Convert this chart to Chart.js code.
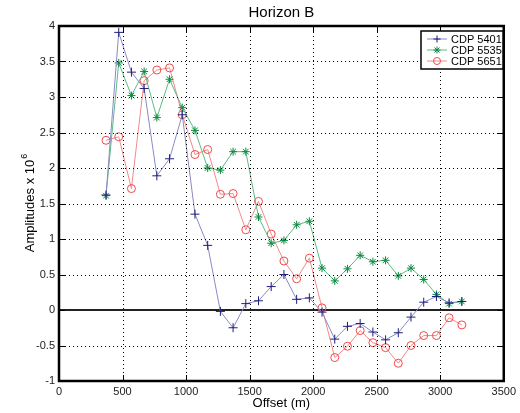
<!DOCTYPE html>
<html>
<head>
<meta charset="utf-8">
<script src="https://cdn.jsdelivr.net/npm/chart.js@4.4.1/dist/chart.umd.min.js"></script>
<style>
html,body{margin:0;padding:0;background:#fff;}
#wrap{width:520px;height:413px;position:relative;}
</style>
</head>
<body>
<div id="wrap"><canvas id="c" width="520" height="413"></canvas></div>
<script>
const offsets = [370,470,570,670,770,870,970,1070,1170,1270,1370,1470,1570,1670,1770,1870,1970,2070,2170,2270,2370,2470,2570,2670,2770,2870,2970,3070,3170];
const cdp5401 = [1.62,3.91,3.35,3.12,1.89,2.13,2.75,1.35,0.91,-0.02,-0.25,0.09,0.13,0.33,0.50,0.15,0.17,-0.03,-0.41,-0.23,-0.19,-0.31,-0.42,-0.32,-0.10,0.11,0.19,0.10,0.12];
const cdp5535 = [1.61,3.48,3.02,3.36,2.71,3.25,2.85,2.53,2.00,1.97,2.23,2.23,1.31,0.94,0.98,1.20,1.25,0.59,0.41,0.58,0.77,0.68,0.70,0.48,0.59,0.43,0.22,0.09,0.12];
const cdp5651 = [2.39,2.44,1.71,3.23,3.38,3.41,2.75,2.19,2.26,1.63,1.64,1.13,1.53,1.07,0.69,0.44,0.73,0.03,-0.67,-0.51,-0.29,-0.46,-0.53,-0.75,-0.50,-0.36,-0.36,-0.11,-0.21];
const seriesNames = ['CDP 5401','CDP 5535','CDP 5651'];
const xTicks = [0,500,1000,1500,2000,2500,3000,3500];
const yTicks = [-1,-0.5,0,0.5,1,1.5,2,2.5,3,3.5,4];

const FONT = '"Liberation Sans", Arial, sans-serif';
const styles = [
  {line:'#8a8ac6', mark:'#1e1e7e', style:'cross', radius:4.5},
  {line:'#5fba86', mark:'#0a8a3e', style:'star', radius:4},
  {line:'#f28a8a', mark:'#f04a4a', style:'circle', radius:4}
];
const allSeries = [cdp5401, cdp5535, cdp5651];

const datasets = allSeries.map((vals, k) => ({
  label: seriesNames[k],
  data: offsets.map((x, i) => ({x: x, y: vals[i]})),
  showLine: true,
  borderColor: styles[k].line,
  borderWidth: 1,
  pointStyle: styles[k].style,
  pointRadius: styles[k].radius,
  pointBorderColor: styles[k].mark,
  pointBackgroundColor: 'rgba(0,0,0,0)',
  pointBorderWidth: 1,
  pointHoverRadius: styles[k].radius
}));

function markerPath(ctx, style, cx, cy, r) {
  ctx.beginPath();
  if (style === 'circle') {
    ctx.arc(cx, cy, r, 0, Math.PI * 2);
  } else {
    ctx.moveTo(cx - r, cy); ctx.lineTo(cx + r, cy);
    ctx.moveTo(cx, cy - r); ctx.lineTo(cx, cy + r);
    if (style === 'star') {
      const d = r * Math.SQRT1_2;
      ctx.moveTo(cx - d, cy - d); ctx.lineTo(cx + d, cy + d);
      ctx.moveTo(cx - d, cy + d); ctx.lineTo(cx + d, cy - d);
    }
  }
  ctx.stroke();
}

const decor = {
  id: 'decor',
  beforeDatasetsDraw(chart) {
    const {ctx, chartArea: a, scales: {y}} = chart;
    ctx.save();
    const z = Math.round(y.getPixelForValue(0));
    ctx.fillStyle = '#222';
    ctx.fillRect(a.left, z - 1, a.right - a.left, 2);
    ctx.restore();
  },
  afterDraw(chart) {
    const {ctx, chartArea: a, scales: {x, y}} = chart;
    ctx.save();
    ctx.setTransform(1, 0, 0, 1, 0, 0);
    ctx.globalAlpha = 1;
    ctx.globalCompositeOperation = 'source-over';
    // titles
    ctx.fillStyle = '#000';
    ctx.textAlign = 'center';
    ctx.textBaseline = 'middle';
    ctx.font = '15px ' + FONT;
    ctx.fillText('Horizon B', (a.left + a.right) / 2, 13);
    ctx.font = '13px ' + FONT;
    ctx.fillText('Offset (m)', (a.left + a.right) / 2, 403);
    ctx.save();
    ctx.translate(34, (a.top + a.bottom) / 2);
    ctx.rotate(-Math.PI / 2);
    ctx.textBaseline = 'alphabetic';
    ctx.textAlign = 'left';
    ctx.font = '13px ' + FONT;
    const main = 'Amplitudes x 10';
    const w1 = ctx.measureText(main).width;
    ctx.font = '9px ' + FONT;
    const w2 = ctx.measureText('6').width;
    const start = -(w1 + w2) / 2;
    ctx.font = '13px ' + FONT;
    ctx.fillText(main, start, 0);
    ctx.font = '9px ' + FONT;
    ctx.fillText('6', start + w1 + 1, -7);
    ctx.restore();
    ctx.setTransform(1, 0, 0, 1, 0, 0);

    // dotted grid
    ctx.fillStyle = '#000';
    xTicks.forEach(v => {
      if (v === 0 || v === 3500) return;
      const px = Math.round(x.getPixelForValue(v));
      for (let py = Math.ceil(a.top) + 2; py < a.bottom - 1; py += 4) ctx.fillRect(px, py, 1, 1);
    });
    yTicks.forEach(v => {
      if (v === -1 || v === 4 || v === 0) return;
      const py = Math.round(y.getPixelForValue(v));
      for (let px = Math.ceil(a.left) + 2; px < a.right - 1; px += 4) ctx.fillRect(px, py, 1, 1);
    });
    // inward ticks
    const tl = 6;
    xTicks.forEach(v => {
      const px = Math.round(x.getPixelForValue(v));
      ctx.fillRect(px, a.bottom - tl, 1, tl);
      ctx.fillRect(px, a.top, 1, tl);
    });
    yTicks.forEach(v => {
      const py = Math.round(y.getPixelForValue(v));
      ctx.fillRect(a.left, py, tl, 1);
      ctx.fillRect(a.right - tl, py, tl, 1);
    });
    // box
    ctx.strokeStyle = '#000';
    ctx.lineWidth = 2.5;
    ctx.setLineDash([]);
    ctx.strokeRect(a.left, a.top, a.right - a.left, a.bottom - a.top);

    // legend
    const lx = 421, ly = 31, lw = 82, lh = 38;
    ctx.fillStyle = '#fff';
    ctx.fillRect(lx, ly, lw, lh);
    ctx.lineWidth = 1.5;
    ctx.strokeStyle = '#000';
    ctx.strokeRect(lx, ly, lw, lh);
    ctx.font = '11px ' + FONT;
    ctx.textBaseline = 'middle';
    ctx.textAlign = 'left';
    for (let k = 0; k < allSeries.length; k++) {
      const ry = ly + 8 + k * 11;
      ctx.lineWidth = 1;
      ctx.strokeStyle = styles[k].line;
      ctx.beginPath(); ctx.moveTo(lx + 6, ry); ctx.lineTo(lx + 26, ry); ctx.stroke();
      ctx.strokeStyle = styles[k].mark;
      markerPath(ctx, styles[k].style, lx + 16, ry, 3.5);
      ctx.fillStyle = '#000';
      ctx.fillText(seriesNames[k], lx + 30, ry + 1);
    }
    ctx.restore();
  }
};

new Chart(document.getElementById('c'), {
  type: 'scatter',
  data: {datasets},
  options: {
    responsive: false,
    animation: false,
    events: [],
    layout: {padding: {top: 26, right: 12, left: 0, bottom: 0}},
    plugins: {legend: {display: false}, tooltip: {enabled: false}, title: {display: false}},
    scales: {
      x: {
        type: 'linear', min: 0, max: 3500,
        afterBuildTicks: s => { s.ticks = xTicks.map(v => ({value: v})); },
        afterFit: s => { s.height = 32; },
        grid: {display: false, drawTicks: false},
        border: {display: false},
        ticks: {color: '#222', font: {family: FONT, size: 11}, padding: 4, maxRotation: 0, autoSkip: false, callback: v => String(v)}
      },
      y: {
        type: 'linear', min: -1, max: 4,
        afterBuildTicks: s => { s.ticks = yTicks.map(v => ({value: v})); },
        afterFit: s => { s.width = 59; },
        grid: {display: false, drawTicks: false},
        border: {display: false},
        ticks: {color: '#222', font: {family: FONT, size: 11}, padding: 4, autoSkip: false, callback: v => String(v)}
      }
    }
  },
  plugins: [decor]
});
</script>
</body>
</html>
